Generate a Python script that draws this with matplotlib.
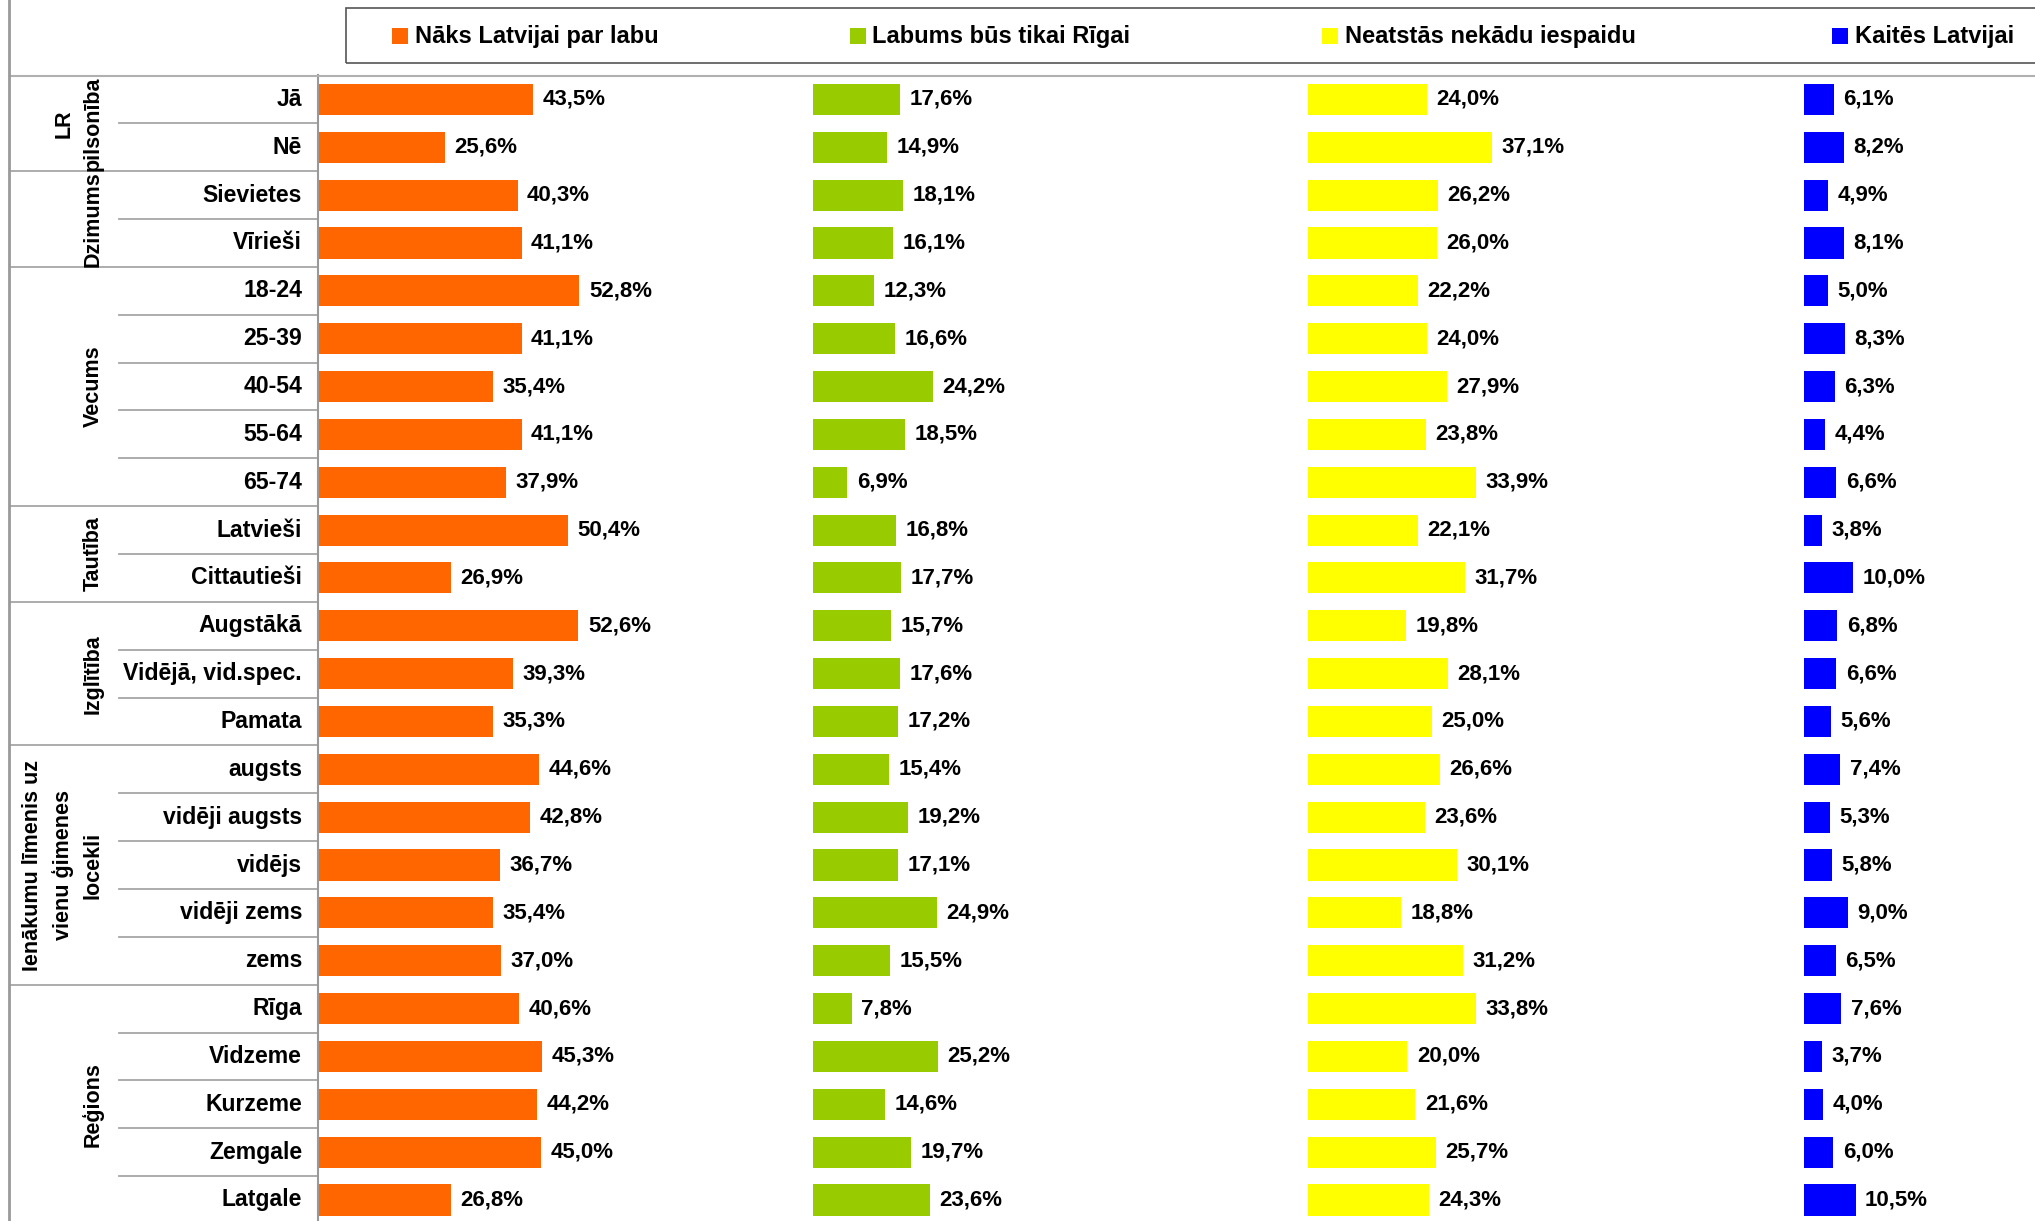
import matplotlib
matplotlib.use('Agg')
import matplotlib.pyplot as plt
from matplotlib.patches import Rectangle
from matplotlib.lines import Line2D
import matplotlib.transforms as mtransforms

plt.rcParams['font.family'] = ['Liberation Sans', 'DejaVu Sans']

categories = ["Jā", "Nē", "Sievietes", "Vīrieši", "18-24", "25-39", "40-54", "55-64",
              "65-74", "Latvieši", "Cittautieši", "Augstākā", "Vidējā, vid.spec.", "Pamata",
              "augsts", "vidēji augsts", "vidējs", "vidēji zems", "zems",
              "Rīga", "Vidzeme", "Kurzeme", "Zemgale", "Latgale"]

naks = [43.5, 25.6, 40.3, 41.1, 52.8, 41.1, 35.4, 41.1, 37.9, 50.4, 26.9, 52.6, 39.3, 35.3,
        44.6, 42.8, 36.7, 35.4, 37.0, 40.6, 45.3, 44.2, 45.0, 26.8]
labums = [17.6, 14.9, 18.1, 16.1, 12.3, 16.6, 24.2, 18.5, 6.9, 16.8, 17.7, 15.7, 17.6, 17.2,
          15.4, 19.2, 17.1, 24.9, 15.5, 7.8, 25.2, 14.6, 19.7, 23.6]
neatstas = [24.0, 37.1, 26.2, 26.0, 22.2, 24.0, 27.9, 23.8, 33.9, 22.1, 31.7, 19.8, 28.1, 25.0,
            26.6, 23.6, 30.1, 18.8, 31.2, 33.8, 20.0, 21.6, 25.7, 24.3]
kaites = [6.1, 8.2, 4.9, 8.1, 5.0, 8.3, 6.3, 4.4, 6.6, 3.8, 10.0, 6.8, 6.6, 5.6,
          7.4, 5.3, 5.8, 9.0, 6.5, 7.6, 3.7, 4.0, 6.0, 10.5]

series_names = ["Nāks Latvijai par labu", "Labums būs tikai Rīgai",
                "Neatstās nekādu iespaidu", "Kaitēs Latvijai"]
series_colors = ["#FF6600", "#99CC00", "#FFFF00", "#0000FF"]

# group label, first row, last row
groups = [("LR\npilsonība", 0, 1), ("Dzimums", 2, 3), ("Vecums", 4, 8),
          ("Tautība", 9, 10), ("Izglītība", 11, 13),
          ("Ienākumu līmenis uz\nvienu ģimenes\nlocekli", 14, 18), ("Reģions", 19, 23)]

W, H = 2035, 1221
fig = plt.figure(figsize=(W / 100, H / 100), dpi=100)


def fx(px):
    return px / W


def fy(py):
    return 1 - py / H


n = len(categories)
top_px = 75.5
row_px = 47.85
axis_px = 318
px_per_unit = 4.952
bottom_px = top_px + n * row_px

ax = fig.add_axes([fx(axis_px), fy(bottom_px), (W - axis_px) / W, n * row_px / H])

series = [naks, labums, neatstas, kaites]
offsets = [0, 100, 200, 300]
ys = list(range(n))
for vals, off, col in zip(series, offsets, series_colors):
    ax.barh(ys, vals, left=off, height=0.65, color=col, edgecolor='none')
    for i, v in zip(ys, vals):
        ax.text(off + v + 1.9, i, f"{v:.1f}".replace('.', ',') + "%",
                ha='left', va='center', fontsize=16, fontweight='bold', color='black')

ax.set_xlim(0, (W - axis_px) / px_per_unit)
ax.set_ylim(n - 0.5, -0.5)
ax.set_xticks([])
ax.set_yticks([])
for s in ['top', 'right', 'bottom']:
    ax.spines[s].set_visible(False)
ax.spines['left'].set_color('#999999')
ax.spines['left'].set_linewidth(1.5)

trans = mtransforms.blended_transform_factory(fig.transFigure, ax.transData)

# category labels
for i, c in enumerate(categories):
    ax.text(fx(302), i, c, transform=trans, ha='right', va='center',
            fontsize=16.6, fontweight='bold', color='black')

# separator lines
group_starts = set(g[1] for g in groups)
line_col = '#a6a6a6'
for b in range(1, n):
    x0 = fx(10) if b in group_starts else fx(119)
    ax.add_line(Line2D([x0, fx(axis_px)], [b - 0.5, b - 0.5], transform=trans,
                       color=line_col, lw=1.3, clip_on=False))

# group labels
for name, r0, r1 in groups:
    yc = (r0 + r1) / 2
    ax.text(fx(104), yc, name, transform=trans, rotation=90, ha='right', va='center',
            multialignment='center', linespacing=1.55,
            fontsize=15.5, fontweight='bold', color='black')

# top line and left border
fig.add_artist(Line2D([fx(10), 1], [fy(top_px), fy(top_px)], transform=fig.transFigure,
                      color='#b0b0b0', lw=1.5))
fig.add_artist(Line2D([fx(9), fx(9)], [0, 1], transform=fig.transFigure,
                      color='#999999', lw=2))

# legend box
fig.add_artist(Rectangle((fx(346), fy(63)), 1.02 - fx(346), (63 - 7.7) / H,
                         transform=fig.transFigure, fill=False, edgecolor='#555555',
                         lw=1.2, clip_on=False))
sq_x = [392, 850, 1322, 1832]
tx_x = [415, 872, 1345, 1855]
for name, col, sx, tx in zip(series_names, series_colors, sq_x, tx_x):
    fig.add_artist(Rectangle((fx(sx), fy(44)), 16 / W, 16 / H, transform=fig.transFigure,
                             facecolor=col, edgecolor='none'))
    fig.text(fx(tx), fy(36), name, ha='left', va='center', fontsize=17,
             fontweight='bold', color='black')

fig.savefig('out.png', dpi=100)
